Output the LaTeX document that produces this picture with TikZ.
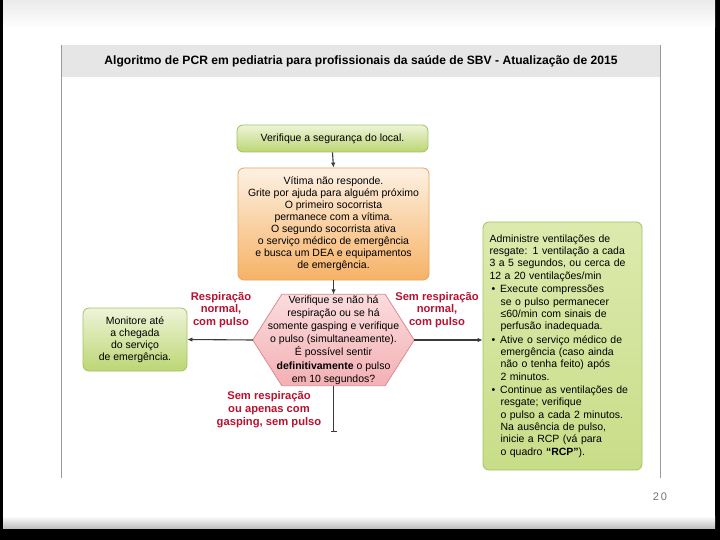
\documentclass[tikz,border=0pt]{standalone}
\usepackage{fontspec}
\setmainfont{Liberation Sans}
\usetikzlibrary{arrows.meta,backgrounds,calc}
\definecolor{gtop}{HTML}{EEF4D8}
\definecolor{gbot}{HTML}{BCD674}
\definecolor{gborder}{HTML}{A3C262}
\definecolor{otop}{HTML}{FDF1E3}
\definecolor{obot}{HTML}{F6B266}
\definecolor{oborder}{HTML}{E8A45C}
\definecolor{ptop}{HTML}{FBDCDD}
\definecolor{pbot}{HTML}{F3B0B4}
\definecolor{pborder}{HTML}{D98C93}
\definecolor{rtop}{HTML}{DDEAAE}
\definecolor{rbot}{HTML}{C8DD88}
\definecolor{labred}{HTML}{B8122F}
\definecolor{linec}{HTML}{3A3A3A}
\definecolor{framec}{HTML}{9A9A9A}
\definecolor{bandc}{HTML}{E6E6E6}
\begin{document}
\begin{tikzpicture}[x=1pt,y=-1pt,
  box/.style={rounded corners=6pt, align=center, inner sep=0pt,
    font=\fontsize{10.5}{12}\selectfont, line width=0.8pt},
  greenbox/.style={box, draw=gborder, top color=gtop, bottom color=gbot},
  orangebox/.style={box, draw=oborder, top color=otop, bottom color=obot},
  ventbox/.style={box, draw=gborder, top color=rtop, bottom color=rbot},
  conn/.style={draw=linec, line width=1.1pt, -{Latex[length=5pt,width=4.5pt]}},
  lab/.style={text=labred, align=center, inner sep=0pt,
    font=\bfseries\fontsize{11.2}{12.8}\selectfont}
]
\useasboundingbox (0,0) rectangle (720,540);
\begin{pgfonlayer}{background}
% slide background
\fill[black] (0,0) rectangle (720,540);
\fill[white] (3,0) rectangle (715,528);
\shade[top color=black!8, bottom color=white] (3,0) rectangle (715,28);
\shade[top color=white, bottom color=black!25] (3,516) rectangle (715,528);
% frame and title band
\fill[bandc] (61,45) rectangle (660,77);
\draw[framec, line width=1pt] (61,45) -- (61,478);
\draw[framec, line width=1pt] (660,45) -- (660,478);
\end{pgfonlayer}
\node[font=\bfseries\fontsize{12.1}{14}\selectfont] (title) at (361,61.5)
  {Algoritmo de PCR em pediatria para profissionais da saúde de SBV - Atualização de 2015};
% boxes
\node[greenbox, minimum width=191, minimum height=27] (safety) at (332.5,138.5)
  {Verifique a segurança do local.};
\node[orangebox, minimum width=191, minimum height=112] (unresp) at (333.5,224)
  {Vítima não responde.\\Grite por ajuda para alguém próximo\\O primeiro socorrista\\
   permanece com a vítima.\\O segundo socorrista ativa\\o serviço médico de emergência\\
   e busca um DEA e equipamentos\\de emergência.};
\node[align=center, inner sep=0pt, minimum width=161, minimum height=91,
  font=\fontsize{10.5}{13.2}\selectfont] (check) at (333.5,340)
  {Verifique se não há\\respiração ou se há\\somente gasping e verifique\\
   o pulso (simultaneamente).\\É possível sentir\\\textbf{definitivamente} o pulso\\em 10 segundos?};
\begin{pgfonlayer}{background}
\path[draw=pborder, line width=0.8pt, top color=ptop, bottom color=pbot]
  (check.west) -- ($(check.north west)+(29,0)$) -- ($(check.north east)+(-29,0)$)
  -- (check.east) -- ($(check.south east)+(-29,0)$) -- ($(check.south west)+(29,0)$) -- cycle;
\end{pgfonlayer}
\node[greenbox, minimum width=104, minimum height=63] (monitor) at (135,339.5)
  {Monitore até\\a chegada\\do serviço\\de emergência.};
\node[ventbox, minimum width=159, minimum height=248, text width=146pt, align=left,
  font=\fontsize{10.5}{12.3}\selectfont] (vent) at (562.5,346)
  {Administre ventilações de\\resgate: 1 ventilação a cada\\3 a 5 segundos, ou cerca de\\12 a 20 ventilações/min\\[1.2pt]
   \hspace*{2pt}\textbullet\hspace{5pt}Execute compressões\\
   \hspace*{11pt}se o pulso permanecer\\
   \hspace*{11pt}≤60/min com sinais de\\
   \hspace*{11pt}perfusão inadequada.\\[1.2pt]
   \hspace*{2pt}\textbullet\hspace{5pt}Ative o serviço médico de\\
   \hspace*{11pt}emergência (caso ainda\\
   \hspace*{11pt}não o tenha feito) após\\
   \hspace*{11pt}2 minutos.\\[1.2pt]
   \hspace*{2pt}\textbullet\hspace{5pt}Continue as ventilações de\\
   \hspace*{11pt}resgate; verifique\\
   \hspace*{11pt}o pulso a cada 2 minutos.\\
   \hspace*{11pt}Na ausência de pulso,\\
   \hspace*{11pt}inicie a RCP (vá para\\
   \hspace*{11pt}o quadro \textbf{“RCP”}).};
% labels
\node[lab] (labl) at (221,310) {Respiração\\normal,\\com pulso};
\node[lab] (labr) at (437,310) {Sem respiração\\normal,\\com pulso};
\node[lab] (labd) at (269,409.5) {Sem respiração\\ou apenas com\\gasping, sem pulso};
% connectors
\coordinate (stop) at (333.5,432);
\draw[conn] (safety.south) -- (unresp.north);
\draw[conn] (unresp.south) -- (check.north);
\draw[conn] (check.west) -- (monitor.east);
\draw[conn] (check.east) -- (check.east -| vent.west);
\draw[draw=linec, line width=1.1pt, -{Bar[width=6pt]}] (check.south) -- (stop);
% page number
\node[text=black!55, font=\fontsize{11}{13}\selectfont] (page) at (660,497) {2\,0};
\end{tikzpicture}
\end{document}
